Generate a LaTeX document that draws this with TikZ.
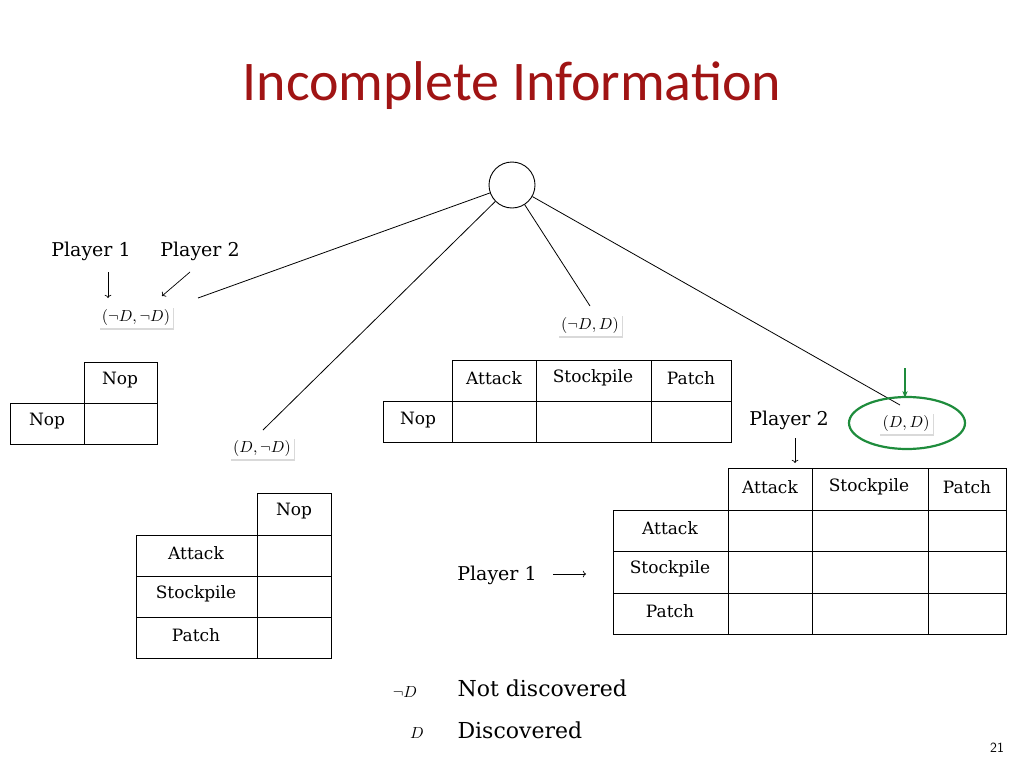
\documentclass[tikz,border=0pt]{standalone}
\usepackage{fontspec}
\setmainfont{DejaVu Serif}
\newfontfamily\titlefont{Carlito}
\usetikzlibrary{shadows,arrows.meta}
\definecolor{titlered}{RGB}{160,20,20}
\definecolor{dgreen}{RGB}{30,140,60}
\begin{document}
\begin{tikzpicture}[x=1pt,y=-1pt,
  txt/.style={font=\fontsize{17}{19}\selectfont},
  lbl/.style={font=\fontsize{19}{22}\selectfont},
  mlab/.style={fill=white,drop shadow={shadow xshift=1pt,shadow yshift=-2pt,opacity=0.3},inner sep=2pt,scale=1.6},
  grid/.style={line width=0.9pt},
  arr/.style={->,line width=0.7pt}]
\useasboundingbox (0,0) rectangle (1024,768);
\node[font=\titlefont\fontsize{56}{62}\selectfont,text=titlered] (title) at (512,86) {Incomplete Information};
\node[draw,circle,minimum size=46pt,line width=0.9pt] (root) at (512,185) {};
% labels
\node[mlab] (l1) at (136,317) {$(\neg D,\neg D)$};
\node[mlab] (l2) at (262,448) {$(D,\neg D)$};
\node[mlab] (l3) at (590,325) {$(\neg D,D)$};
\node[mlab] (l4) at (906,423) {$(D,D)$};
\coordinate (e1) at (198,298);
\coordinate (e2) at (263,430);
\coordinate (e3) at (590,306);
\coordinate (e4) at (900,405);
\draw[line width=0.8pt] (root) -- (e1);
\draw[line width=0.8pt] (root) -- (e2);
\draw[line width=0.8pt] (root) -- (e3);
\draw[line width=0.8pt] (root) -- (e4);
\draw[dgreen,line width=2.2pt] (907,423) ellipse (58 and 26);
\coordinate (g1) at (905,368);
\coordinate (g2) at (905,398);
\draw[dgreen,line width=2.5pt,-{Stealth[length=7pt]}] (g1) -- (g2);
% player labels
\node[lbl] (p1) at (91,251) {Player 1};
\node[lbl] (p2) at (200,251) {Player 2};
\coordinate (p1a) at (108,298);
\coordinate (p2a) at (162,296);
\draw[arr] (108,272) -- (p1a);
\draw[arr] (190,272) -- (p2a);
\node[lbl] (p3) at (789,420) {Player 2};
\coordinate (p3a) at (795,463);
\draw[arr] (795,438) -- (p3a);
\node[lbl] (p4) at (497,575) {Player 1};
\coordinate (p4a) at (586,574);
\draw[arr] (553,574) -- (p4a);
% table A
\draw[grid] (84,362) rectangle (157,403) (10,403) rectangle (157,444) (84,403) -- (84,444);
\node[txt] (ta1) at (120,380) {Nop};
\node[txt] (ta2) at (47,421) {Nop};
% table B
\draw[grid] (452,360) rectangle (731,401) (383,401) rectangle (731,442);
\foreach \x in {452,536,651} \draw[grid] (\x,360) -- (\x,442);
\node[txt] (tb1) at (494,378) {Attack};
\node[txt] (tb2) at (593,378) {Stockpile};
\node[txt] (tb3) at (691,378) {Patch};
\node[txt] (tb4) at (418,420) {Nop};
% table C
\draw[grid] (257,493) rectangle (331,535) (136,535) rectangle (331,658);
\draw[grid] (257,535) -- (257,658) (136,576) -- (331,576) (136,617) -- (331,617);
\node[txt] (tc1) at (294,511) {Nop};
\node[txt] (tc2) at (196,553) {Attack};
\node[txt] (tc3) at (196,594) {Stockpile};
\node[txt] (tc4) at (196,635) {Patch};
% table D
\draw[grid] (728,468) rectangle (1006,510) (613,510) rectangle (1006,634);
\foreach \x in {728,812,928} \draw[grid] (\x,468) -- (\x,634);
\foreach \y in {551,593} \draw[grid] (613,\y) -- (1006,\y);
\node[txt] (td1) at (770,487) {Attack};
\node[txt] (td2) at (869,487) {Stockpile};
\node[txt] (td3) at (967,487) {Patch};
\node[txt] (td4) at (670,528) {Attack};
\node[txt] (td5) at (670,569) {Stockpile};
\node[txt] (td6) at (670,611) {Patch};
% legend
\node[scale=1.6] (s1) at (405,692) {$\neg D$};
\node[scale=1.6] (s2) at (417,733) {$D$};
\node[anchor=west,font=\fontsize{22}{25}\selectfont] (n1) at (454,688) {Not discovered};
\node[anchor=west,font=\fontsize{22}{25}\selectfont] (n2) at (454,730) {Discovered};
\node[font=\sffamily\fontsize{14}{16}\selectfont] (pg) at (997,748) {21};
\end{tikzpicture}
\end{document}
